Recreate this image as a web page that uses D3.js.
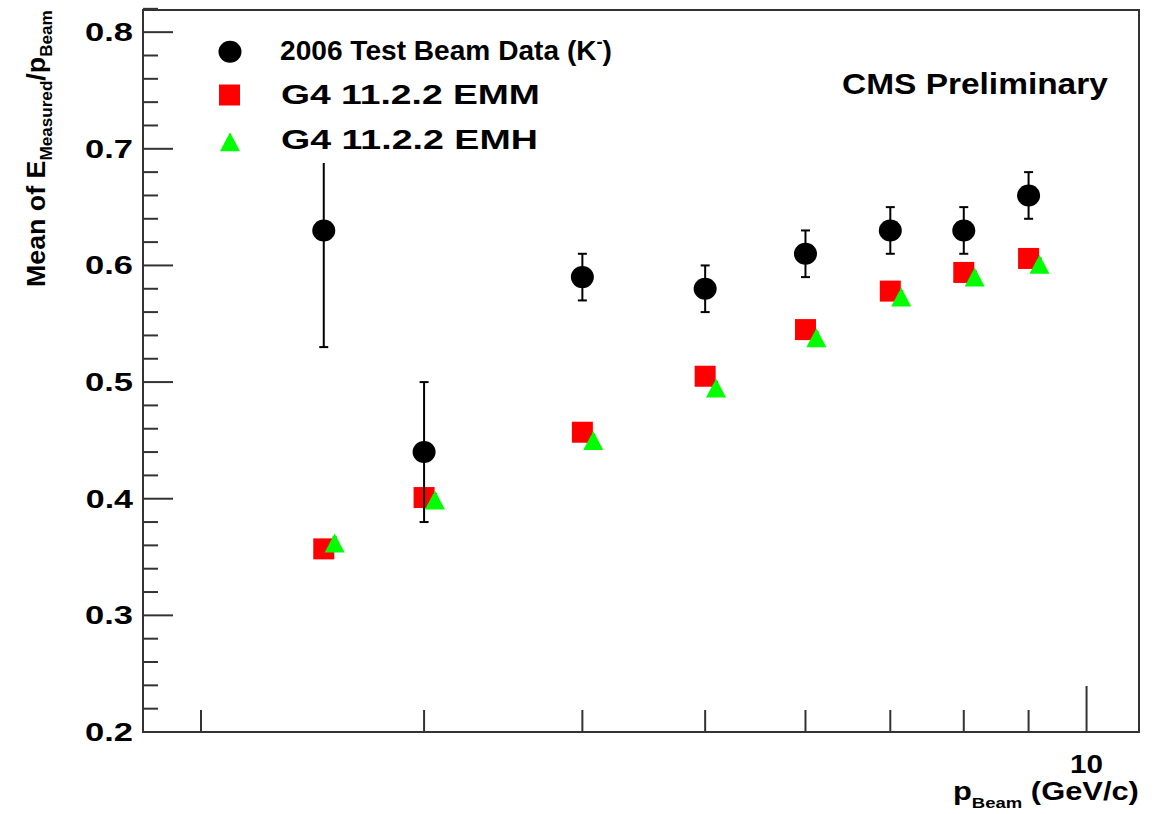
<!DOCTYPE html>
<html>
<head>
<meta charset="utf-8">
<script src="https://cdn.jsdelivr.net/npm/d3@7"></script>
<style>
  html, body { margin: 0; padding: 0; background: #fff; }
  svg { display: block; }
  text { font-family: "Liberation Sans", Arial, Helvetica, sans-serif; font-weight: bold; fill: #000; }
</style>
</head>
<body>
<svg id="chart" width="1163" height="814"></svg>
<script>
// ---------------- data ----------------
const beamMomentum = [2.5, 3, 4, 5, 6, 7, 8, 9];                 // GeV/c (data & EMM)
const dataMean     = [0.63, 0.44, 0.59, 0.58, 0.61, 0.63, 0.63, 0.66];
const dataErr      = [0.10, 0.06, 0.02, 0.02, 0.02, 0.02, 0.02, 0.02];
const emmMean      = [0.357, 0.401, 0.457, 0.505, 0.545, 0.578, 0.594, 0.606];
const emmErr       = [0.004, 0.004, 0.004, 0.004, 0.004, 0.004, 0.004, 0.004];
const emhMomentum  = [2.55, 3.06, 4.08, 5.1, 6.12, 7.14, 8.16, 9.18]; // drawn slightly offset
const emhMean      = [0.362, 0.399, 0.450, 0.495, 0.538, 0.573, 0.590, 0.601];
const emhErr       = [0.005, 0.005, 0.005, 0.005, 0.005, 0.005, 0.005, 0.005];
const yMajorTicks  = [0.2, 0.3, 0.4, 0.5, 0.6, 0.7, 0.8];
const xTicks       = [2, 3, 4, 5, 6, 7, 8, 9, 10];
const xTickLabels  = ["10"];
const legendLabels = ["2006 Test Beam Data (K", "G4 11.2.2 EMM", "G4 11.2.2 EMH"];

// ---------------- layout ----------------
const svg = d3.select("#chart");
const L = 143, R = 1139, T = 10, B = 732;
const x = d3.scaleLog().domain([1.8, 11]).range([L, R]);
const y = d3.scaleLinear().domain([0.2, 0.819]).range([B, T]);

svg.append("rect").attr("width", 1163).attr("height", 814).attr("fill", "#fff");

// helper: place text and stretch it horizontally to a target width
function fit(sel, tx, ty, width) {
  const bw = sel.node().getBBox().width;
  sel.attr("transform", `translate(${tx},${ty}) scale(${width / bw},1)`);
  return sel;
}

const axisColor = "#333";

// y ticks (major + minor)
const yMinor = d3.range(0.2, 0.8201, 0.02).map(v => +v.toFixed(2));
svg.append("g").selectAll("line").data(yMinor).join("line")
  .attr("x1", L).attr("x2", d => (yMajorTicks.some(m => Math.abs(m - d) < 1e-6) ? L + 30 : L + 15))
  .attr("y1", d => y(d)).attr("y2", d => y(d))
  .attr("stroke", axisColor).attr("stroke-width", 2);

// y tick labels
yMajorTicks.forEach(v => {
  const t = svg.append("text").attr("text-anchor", "end").attr("font-size", 26).text(v.toFixed(1));
  fit(t, 133, y(v) + 9, 48);
});

// x ticks
svg.append("g").selectAll("line").data(xTicks).join("line")
  .attr("x1", d => x(d)).attr("x2", d => x(d))
  .attr("y1", B).attr("y2", d => (d === 10 ? B - 46 : B - 22))
  .attr("stroke", axisColor).attr("stroke-width", 2);

// x tick label "10"
{
  const t = svg.append("text").attr("text-anchor", "middle").attr("font-size", 26).text(xTickLabels[0]);
  fit(t, x(10), 773, 33);
}

// frame
svg.append("rect").attr("x", L).attr("y", T).attr("width", R - L).attr("height", B - T)
  .attr("fill", "none").attr("stroke", axisColor).attr("stroke-width", 2);

// ---------------- marks ----------------
function errorBars(xs, ys, es, cap, sw) {
  const g = svg.append("g").attr("stroke", "#000").attr("stroke-width", sw);
  xs.forEach((xv, i) => {
    const cx = x(xv), y1 = y(ys[i] + es[i]), y2 = y(ys[i] - es[i]);
    g.append("line").attr("x1", cx).attr("x2", cx).attr("y1", y1).attr("y2", y2);
    g.append("line").attr("x1", cx - cap).attr("x2", cx + cap).attr("y1", y1).attr("y2", y1);
    g.append("line").attr("x1", cx - cap).attr("x2", cx + cap).attr("y1", y2).attr("y2", y2);
  });
}

// EMM (red squares)
errorBars(beamMomentum, emmMean, emmErr, 2, 1.5);
svg.append("g").selectAll("rect").data(emmMean).join("rect")
  .attr("x", (d, i) => x(beamMomentum[i]) - 10.5).attr("y", d => y(d) - 10.5)
  .attr("width", 21).attr("height", 21).attr("fill", "#ff0000");

// EMH (green triangles)
errorBars(emhMomentum, emhMean, emhErr, 2, 1.5);
const tri = (cx, cy) => `M${cx},${cy - 9.5} L${cx + 10},${cy + 9.5} L${cx - 10},${cy + 9.5} Z`;
svg.append("g").selectAll("path").data(emhMean).join("path")
  .attr("d", (d, i) => tri(x(emhMomentum[i]), y(d))).attr("fill", "#00ff00");

// Data (black circles with error bars)
errorBars(beamMomentum, dataMean, dataErr, 4.5, 2);
svg.append("g").selectAll("ellipse").data(dataMean).join("ellipse")
  .attr("cx", (d, i) => x(beamMomentum[i])).attr("cy", d => y(d))
  .attr("rx", 11.5).attr("ry", 11).attr("fill", "#000");

// ---------------- legend ----------------
svg.append("rect").attr("x", 185).attr("y", 22).attr("width", 440).attr("height", 141).attr("fill", "#fff");
svg.append("ellipse").attr("cx", 230).attr("cy", 51.7).attr("rx", 11.5).attr("ry", 11).attr("fill", "#000");
svg.append("rect").attr("x", 219).attr("y", 84.5).attr("width", 21).attr("height", 21).attr("fill", "#ff0000");
svg.append("path").attr("d", tri(230, 141.7)).attr("fill", "#00ff00");

{
  const t = svg.append("text").attr("font-size", 28);
  t.append("tspan").text(legendLabels[0]);
  t.append("tspan").attr("font-size", 18).attr("dy", -12).text("-");
  t.append("tspan").attr("dy", 12).text(")");
  fit(t, 280, 60, 332);
}
fit(svg.append("text").attr("font-size", 28).text(legendLabels[1]), 281, 103.5, 259);
fit(svg.append("text").attr("font-size", 28).text(legendLabels[2]), 281, 148.5, 257);

// CMS Preliminary
fit(svg.append("text").attr("font-size", 29).text("CMS Preliminary"), 842, 93.5, 266);

// ---------------- axis titles ----------------
{
  const g = svg.append("g").attr("transform", "translate(45,287) rotate(-90)");
  const t = g.append("text").attr("font-size", 25);
  t.append("tspan").text("Mean of E");
  t.append("tspan").attr("font-size", 16).attr("dy", 7).text("Measured");
  t.append("tspan").attr("dy", -7).text("/p");
  t.append("tspan").attr("font-size", 16).attr("dy", 7).text("Beam");
  const bw = t.node().getBBox().width;
  t.attr("transform", `scale(${277 / bw},1)`);
}
{
  const t = svg.append("text").attr("font-size", 25);
  t.append("tspan").text("p");
  t.append("tspan").attr("font-size", 15).attr("dy", 8).text("Beam");
  t.append("tspan").attr("dy", -8).text(" (GeV/c)");
  fit(t, 953, 800, 186);
}
</script>
</body>
</html>
